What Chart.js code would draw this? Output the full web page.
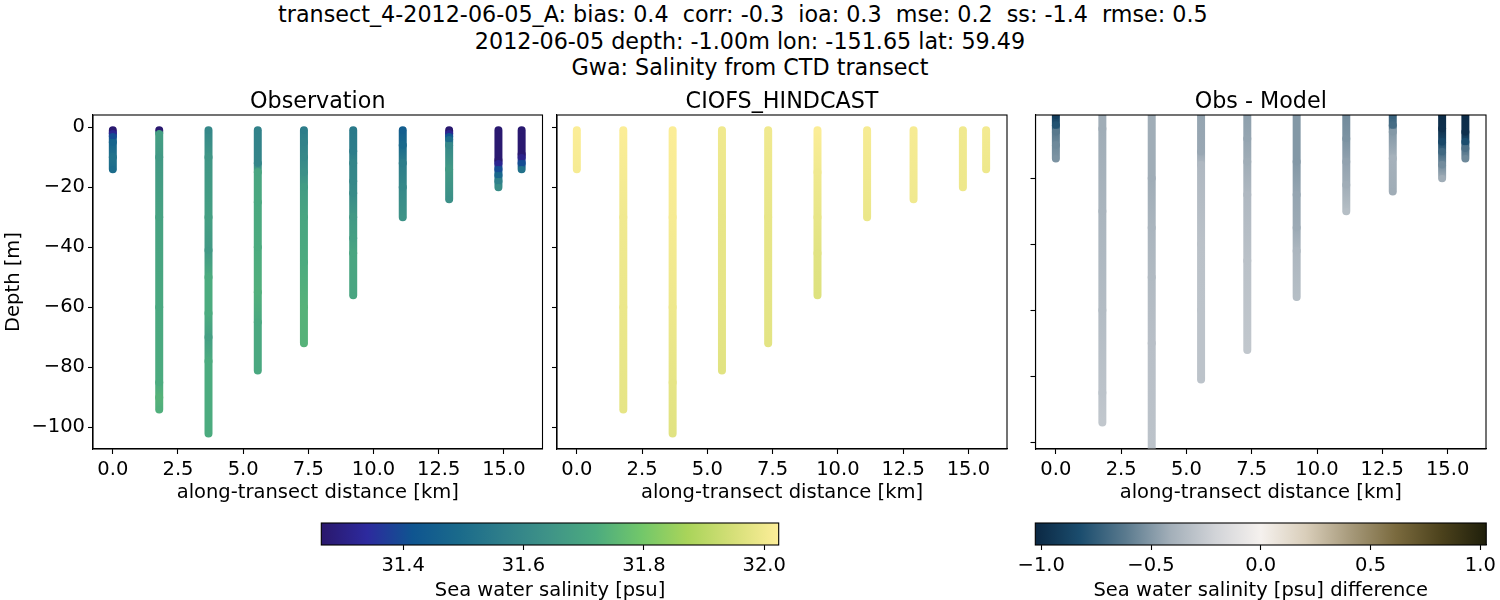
<!DOCTYPE html>
<html>
<head>
<meta charset="utf-8">
<script src="https://cdn.jsdelivr.net/npm/chart.js@4"></script>
<style>
    body { margin: 0; background: #fff; width: 1500px; height: 600px; overflow: hidden; font-family: 'DejaVu Sans'; }
    canvas { position: absolute; }
    #suptitle { position: absolute; left: 0; top: 1px; width: 1500px; text-align: center; font-size: 22.25px; line-height: 26.6px; white-space: pre; color: #000; }
</style>
</head>
<body>
<div id="suptitle">transect_4-2012-06-05_A: bias: 0.4  corr: -0.3  ioa: 0.3  mse: 0.2  ss: -1.4  rmse: 0.5  
2012-06-05 depth: -1.00m lon: -151.65 lat: 59.49
Gwa: Salinity from CTD transect</div>
<canvas id="obsChart" style="left:0;top:85px"></canvas>
<canvas id="modelChart" style="left:548px;top:85px"></canvas>
<canvas id="diffChart" style="left:1013px;top:85px"></canvas>
<canvas id="obsBar" style="left:300px;top:515px"></canvas>
<canvas id="diffBar" style="left:1010px;top:515px"></canvas>
<script>
// станции вдоль разреза, км
const stationKm = [0, 1.78, 3.67, 5.56, 7.33, 9.22, 11.12, 12.9, 14.79, 15.68];

const obsDepth = [
    [-1, -2, -3, -5, -10, -14],
    [-1, -2, -10, -30, -60, -85, -90, -94],
    [-1, -10, -30, -41, -50, -62, -70, -78, -102],
    [-1, -12, -15, -25, -40, -55, -65, -81],
    [-1, -5, -10, -15, -20, -30, -45, -60, -72],
    [-1, -8, -12, -18, -22, -30, -37, -42, -56],
    [-1, -6, -12, -20, -30],
    [-1, -2, -3, -4, -6, -14, -24],
    [-1, -11, -12, -14, -16, -18, -20],
    [-1, -9, -10, -12, -14]
];
const obsSalinity = [
    [31.27, 31.32, 31.4, 31.47, 31.52, 31.5],
    [31.27, 31.68, 31.66, 31.69, 31.71, 31.72, 31.74, 31.73],
    [31.6, 31.65, 31.68, 31.66, 31.72, 31.72, 31.68, 31.72, 31.72],
    [31.58, 31.59, 31.7, 31.71, 31.72, 31.73, 31.71, 31.71],
    [31.56, 31.58, 31.6, 31.63, 31.67, 31.7, 31.72, 31.74, 31.74],
    [31.55, 31.56, 31.59, 31.6, 31.61, 31.66, 31.68, 31.7, 31.7],
    [31.45, 31.49, 31.56, 31.6, 31.64],
    [31.27, 31.32, 31.42, 31.5, 31.6, 31.66, 31.63],
    [31.27, 31.27, 31.32, 31.4, 31.48, 31.57, 31.62],
    [31.27, 31.27, 31.31, 31.4, 31.52]
];

const modelDepth = [
    [-1, -14],
    [-1, -30, -60, -94],
    [-1, -30, -60, -85, -102],
    [-1, -30, -60, -81],
    [-1, -30, -72],
    [-1, -15, -30, -42, -56],
    [-1, -30],
    [-1, -24],
    [-1, -20],
    [-1, -14]
];
const modelSalinity = [
    [32.02, 32.01],
    [32.02, 32.0, 31.99, 31.98],
    [32.02, 32.01, 31.995, 31.98, 31.97],
    [32.0, 31.985, 31.98, 31.97],
    [32.0, 31.985, 31.975],
    [32.02, 32.0, 31.985, 31.97, 31.965],
    [32.01, 31.99],
    [32.01, 32.0],
    [32.0, 31.995],
    [32.005, 31.995]
];

const diffDepth = [
    [-1, -4, -6, -10, -14],
    [-1, -5, -30, -60, -85, -94],
    [-1, -20, -35, -50, -70, -102],
    [-1, -12, -16, -40, -60, -81],
    [-1, -8, -15, -25, -45, -72],
    [-1, -15, -25, -35, -42, -56],
    [-1, -8, -15, -22, -30],
    [-1, -4, -6, -14, -24],
    [-1, -5, -9, -12, -16, -20],
    [-1, -6, -9, -11, -14]
];
const diffSalinity = [
    [-0.9, -0.8, -0.62, -0.56, -0.52],
    [-0.42, -0.42, -0.38, -0.34, -0.3, -0.28],
    [-0.42, -0.42, -0.38, -0.35, -0.32, -0.3],
    [-0.45, -0.44, -0.36, -0.31, -0.3, -0.3],
    [-0.47, -0.45, -0.42, -0.36, -0.31, -0.28],
    [-0.5, -0.5, -0.45, -0.43, -0.37, -0.33],
    [-0.55, -0.52, -0.46, -0.42, -0.33],
    [-0.72, -0.68, -0.5, -0.4, -0.42],
    [-1.0, -0.98, -0.85, -0.7, -0.55, -0.42],
    [-1.0, -0.98, -0.82, -0.66, -0.56]
];

const kmTicks = [0, 2.5, 5, 7.5, 10, 12.5, 15];
const depthTicks = [0, -20, -40, -60, -80, -100];
const diffDepthTicks = [-20, -40, -60, -80, -100];
const obsBarTicks = [31.4, 31.6, 31.8, 32.0];
const diffBarTicks = [-1, -0.5, 0, 0.5, 1];

const salinityRange = [31.264, 32.024];
const diffRange = [-1.027, 1.027];

// цветовые шкалы снял с колорбаров
const halineColors = ['#2a186c', '#2d2a9e', '#0f5590', '#1a6a8b', '#2f7f8a', '#3f9487', '#4cab7f', '#72c76a', '#a9d45a', '#d5df78', '#fdee99'];
const diffColors = ['#0b2843', '#1b4d6e', '#5a7a8e', '#a3afb9', '#d2d4d8', '#f5f1ee', '#d9ceba', '#a6997a', '#7a6a3e', '#4c421c', '#1f1f0b'];

const fontName = 'DejaVu Sans';
const tickFont = { family: fontName, size: 19.5 };

Chart.defaults.animation = false;
Chart.defaults.color = '#000';

function hexToRgb(hex) {
    return [1, 3, 5].map(i => parseInt(hex.substr(i, 2), 16));
}

function colorAt(colors, range, value) {
    let t = (value - range[0]) / (range[1] - range[0]);
    t = Math.min(1, Math.max(0, t)) * (colors.length - 1);
    const i = Math.min(colors.length - 2, Math.floor(t));
    const a = hexToRgb(colors[i]);
    const b = hexToRgb(colors[i + 1]);
    const rgb = a.map((c, k) => Math.round(c + (b[k] - c) * (t - i)));
    return 'rgb(' + rgb.join(',') + ')';
}

function minusLabel(text) {
    return String(text).replace('-', '\u2212');
}

const framePlugin = {
    id: 'frame',
    afterDraw(chart) {
        const a = chart.chartArea;
        const ctx = chart.ctx;
        ctx.save();
        ctx.strokeStyle = '#000';
        ctx.lineWidth = 1.1;
        ctx.strokeRect(a.left, a.top, a.right - a.left, a.bottom - a.top);
        ctx.restore();
    }
};

function stationDatasets(depths, values, colors, range) {
    return stationKm.map((km, s) => {
        const pointColors = values[s].map(v => colorAt(colors, range, v));
        return {
            data: depths[s].map(d => ({ x: km, y: d })),
            showLine: true,
            clip: 0,
            borderWidth: 8,
            borderCapStyle: 'round',
            pointRadius: 3.4,
            pointBorderWidth: 0,
            pointHoverRadius: 3.4,
            pointBackgroundColor: pointColors,
            segment: {
                borderColor: ctx => {
                    const g = ctx.chart.ctx.createLinearGradient(0, ctx.p0.y, 0, ctx.p1.y);
                    g.addColorStop(0, pointColors[ctx.p0DataIndex]);
                    g.addColorStop(1, pointColors[ctx.p1DataIndex]);
                    return g;
                }
            }
        };
    });
}

function drawPanel(id, size, opts) {
    const canvas = document.getElementById(id);
    canvas.width = size.width;
    canvas.height = size.height;
    new Chart(canvas, {
        type: 'scatter',
        data: { datasets: stationDatasets(opts.depths, opts.values, opts.colors, opts.range) },
        options: {
            responsive: false,
            layout: { padding: { right: size.right } },
            plugins: {
                legend: { display: false },
                tooltip: { enabled: false },
                title: {
                    display: true,
                    fullSize: false,
                    text: opts.title,
                    color: '#000',
                    font: { family: fontName, size: 22.25, weight: 'normal', lineHeight: '26px' },
                    padding: { top: 4, bottom: 0 }
                }
            },
            scales: {
                x: {
                    min: opts.xMin,
                    max: opts.xMax,
                    afterBuildTicks: axis => { axis.ticks = kmTicks.map(v => ({ value: v })); },
                    afterFit: axis => { axis.height = 56; },
                    border: { color: '#000', width: 1.1 },
                    grid: { drawOnChartArea: false, tickLength: 5, tickColor: '#000', tickWidth: 1.1 },
                    ticks: { font: tickFont, padding: 4, maxRotation: 0, autoSkip: false, callback: v => v.toFixed(1) },
                    title: {
                        display: true,
                        text: 'along-transect distance [km]',
                        font: { family: fontName, size: 19.5, lineHeight: '23px' },
                        padding: { top: 0, bottom: 1 }
                    }
                },
                y: {
                    min: opts.yMin,
                    max: opts.yMax,
                    afterBuildTicks: axis => { axis.ticks = opts.yTicks.map(v => ({ value: v })); },
                    afterFit: axis => { axis.width = size.axisWidth; },
                    border: { color: '#000', width: 1.1 },
                    grid: { drawOnChartArea: false, tickLength: 5, tickColor: '#000', tickWidth: 1.1 },
                    ticks: { display: opts.showDepthLabels, font: tickFont, padding: 3, autoSkip: false, callback: v => minusLabel(v) },
                    title: {
                        display: opts.showDepthLabels,
                        text: 'Depth [m]',
                        font: { family: fontName, size: 19.5, lineHeight: '23px' },
                        padding: { top: 2, bottom: 0 }
                    }
                }
            }
        },
        plugins: [framePlugin]
    });
}

function drawColorbar(id, size, opts) {
    const canvas = document.getElementById(id);
    canvas.width = size.width;
    canvas.height = size.height;
    new Chart(canvas, {
        type: 'bar',
        data: {
            labels: [''],
            datasets: [{
                data: [opts.range],
                barPercentage: 1,
                categoryPercentage: 1,
                borderSkipped: false,
                backgroundColor: ctx => {
                    const a = ctx.chart.chartArea;
                    if (!a) return opts.colors[0];
                    const g = ctx.chart.ctx.createLinearGradient(a.left, 0, a.right, 0);
                    opts.colors.forEach((c, i) => g.addColorStop(i / (opts.colors.length - 1), c));
                    return g;
                }
            }]
        },
        options: {
            responsive: false,
            indexAxis: 'y',
            layout: { padding: { left: size.left, right: size.right, top: 8 } },
            plugins: { legend: { display: false }, tooltip: { enabled: false } },
            scales: {
                y: { display: false },
                x: {
                    min: opts.range[0],
                    max: opts.range[1],
                    afterBuildTicks: axis => { axis.ticks = opts.ticks.map(v => ({ value: v })); },
                    afterFit: axis => { axis.height = 55; },
                    border: { color: '#000', width: 1.1 },
                    grid: { drawOnChartArea: false, tickLength: 5, tickColor: '#000', tickWidth: 1.1 },
                    ticks: { font: tickFont, padding: 4, maxRotation: 0, autoSkip: false, callback: v => minusLabel(v.toFixed(1)) },
                    title: {
                        display: true,
                        text: opts.label,
                        font: { family: fontName, size: 19.5, lineHeight: '19px' },
                        padding: { top: 0, bottom: 0 }
                    }
                }
            }
        },
        plugins: [framePlugin]
    });
}

drawPanel('obsChart', { width: 548, height: 420, right: 5.5, axisWidth: 93 }, {
    title: 'Observation', depths: obsDepth, values: obsSalinity, colors: halineColors, range: salinityRange,
    xMin: -0.76, xMax: 16.48, yMin: -107.2, yMax: 4.1, yTicks: depthTicks, showDepthLabels: true
});
drawPanel('modelChart', { width: 465, height: 420, right: 6, axisWidth: 9 }, {
    title: 'CIOFS_HINDCAST', depths: modelDepth, values: modelSalinity, colors: halineColors, range: salinityRange,
    xMin: -0.76, xMax: 16.48, yMin: -107.2, yMax: 4.1, yTicks: depthTicks, showDepthLabels: false
});
drawPanel('diffChart', { width: 480, height: 420, right: 7, axisWidth: 22.5 }, {
    title: 'Obs - Model', depths: diffDepth, values: diffSalinity, colors: diffColors, range: diffRange,
    xMin: -0.78, xMax: 16.47, yMin: -102.03, yMax: -0.82, yTicks: diffDepthTicks, showDepthLabels: false
});
drawColorbar('obsBar', { width: 500, height: 85, left: 21.3, right: 21.3 }, {
    range: salinityRange, colors: halineColors, ticks: obsBarTicks, label: 'Sea water salinity [psu]'
});
drawColorbar('diffBar', { width: 490, height: 85, left: 25.3, right: 13.3 }, {
    range: diffRange, colors: diffColors, ticks: diffBarTicks, label: 'Sea water salinity [psu] difference'
});
</script>
</body>
</html>
